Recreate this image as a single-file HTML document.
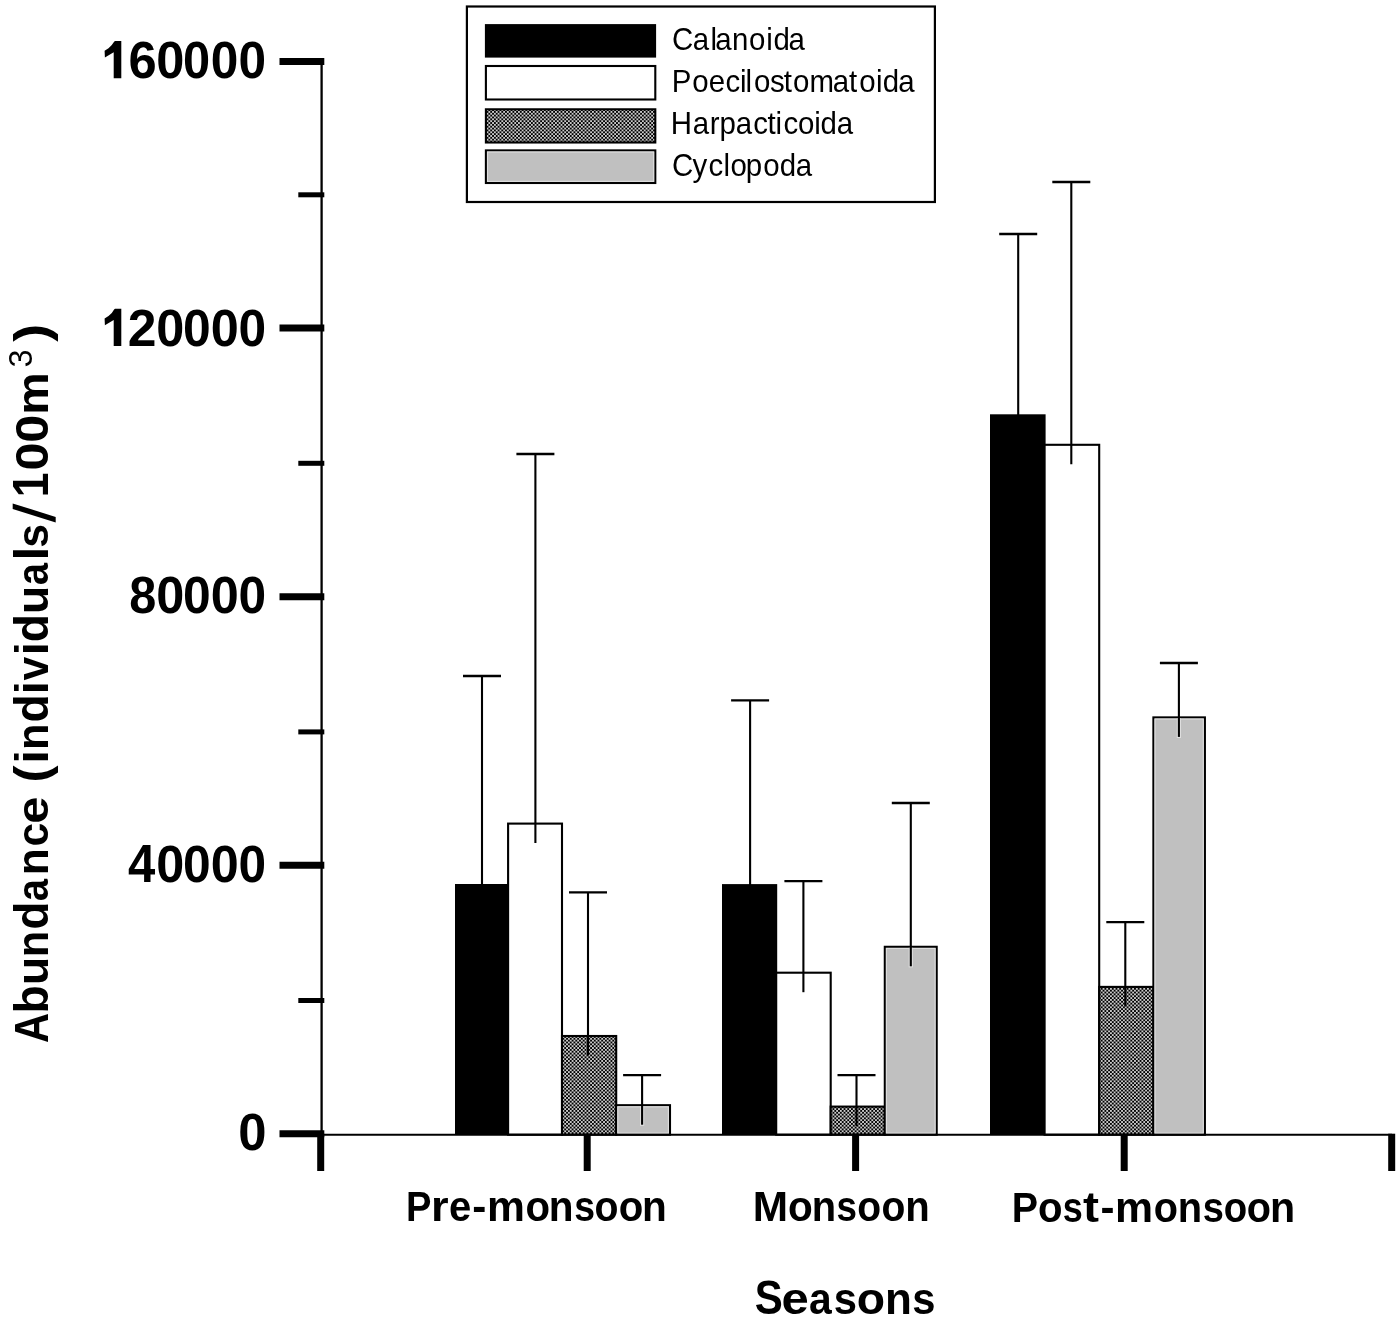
<!DOCTYPE html>
<html><head><meta charset="utf-8"><style>
html,body{margin:0;padding:0;background:#fff;}
svg{display:block;filter:grayscale(100%);}
text{font-family:"Liberation Sans",sans-serif;fill:#000;}
</style></head><body>
<svg width="1400" height="1326" viewBox="0 0 1400 1326">
<defs>
<pattern id="hatch" patternUnits="userSpaceOnUse" width="3.7" height="3.7">
<rect width="3.7" height="3.7" fill="#000"/>
<rect x="0.1" y="0.1" width="1.65" height="1.65" fill="#fff"/>
<rect x="1.95" y="1.95" width="1.65" height="1.65" fill="#fff"/>
</pattern>
</defs>
<rect width="1400" height="1326" fill="#fff"/>

<rect x="455" y="884" width="54.10000000000002" height="250.70000000000005" fill="#000"/>
<rect x="508.1" y="823.6" width="53.89999999999998" height="311.1" fill="#fff" stroke="#000" stroke-width="2.1"/>
<rect x="562" y="1036" width="54.200000000000045" height="98.70000000000005" fill="url(#hatch)" stroke="#000" stroke-width="2.1"/>
<rect x="616.2" y="1105.2" width="53.799999999999955" height="29.5" fill="#c0c0c0" stroke="#000" stroke-width="2.1"/>
<rect x="617.8000000000001" y="1106.8" width="50.59999999999995" height="26.3" fill="none" stroke="#dedede" stroke-width="1.1"/>
<rect x="722" y="884.1" width="55.200000000000045" height="250.60000000000002" fill="#000"/>
<rect x="776.2" y="972.7" width="54.5" height="162.0" fill="#fff" stroke="#000" stroke-width="2.1"/>
<rect x="830.7" y="1106.6" width="54.09999999999991" height="28.100000000000136" fill="url(#hatch)" stroke="#000" stroke-width="2.1"/>
<rect x="884.8" y="946.8" width="51.90000000000009" height="187.9000000000001" fill="#c0c0c0" stroke="#000" stroke-width="2.1"/>
<rect x="886.4" y="948.4" width="48.70000000000009" height="184.7000000000001" fill="none" stroke="#dedede" stroke-width="1.1"/>
<rect x="990" y="414.3" width="55.59999999999991" height="720.4000000000001" fill="#000"/>
<rect x="1044.6" y="444.8" width="54.600000000000136" height="689.9000000000001" fill="#fff" stroke="#000" stroke-width="2.1"/>
<rect x="1099.2" y="986.9" width="54.200000000000045" height="147.80000000000007" fill="url(#hatch)" stroke="#000" stroke-width="2.1"/>
<rect x="1153.4" y="717.4" width="51.5" height="417.30000000000007" fill="#c0c0c0" stroke="#000" stroke-width="2.1"/>
<rect x="1155.0" y="719.0" width="48.3" height="414.1000000000001" fill="none" stroke="#dedede" stroke-width="1.1"/>
<line x1="482" y1="676" x2="482" y2="903.5" stroke="#000" stroke-width="2.1"/>
<line x1="463" y1="676" x2="501" y2="676" stroke="#000" stroke-width="2.3"/>
<line x1="535.4" y1="454" x2="535.4" y2="843.1" stroke="#000" stroke-width="2.1"/>
<line x1="516.4" y1="454" x2="554.4" y2="454" stroke="#000" stroke-width="2.3"/>
<line x1="588" y1="892.4" x2="588" y2="1055.5" stroke="#000" stroke-width="2.1"/>
<line x1="569" y1="892.4" x2="607" y2="892.4" stroke="#000" stroke-width="2.3"/>
<line x1="642.1" y1="1106.2" x2="642.1" y2="1125.8" stroke="#dedede" stroke-width="4.2"/>
<line x1="642.1" y1="1075.2" x2="642.1" y2="1124.7" stroke="#000" stroke-width="2.1"/>
<line x1="623.1" y1="1075.2" x2="661.1" y2="1075.2" stroke="#000" stroke-width="2.3"/>
<line x1="750.1" y1="700.3" x2="750.1" y2="903.6" stroke="#000" stroke-width="2.1"/>
<line x1="731.1" y1="700.3" x2="769.1" y2="700.3" stroke="#000" stroke-width="2.3"/>
<line x1="803.4" y1="881.2" x2="803.4" y2="992.2" stroke="#000" stroke-width="2.1"/>
<line x1="784.4" y1="881.2" x2="822.4" y2="881.2" stroke="#000" stroke-width="2.3"/>
<line x1="856.5" y1="1075.1" x2="856.5" y2="1126.1" stroke="#000" stroke-width="2.1"/>
<line x1="837.5" y1="1075.1" x2="875.5" y2="1075.1" stroke="#000" stroke-width="2.3"/>
<line x1="910.8" y1="947.8" x2="910.8" y2="967.4" stroke="#dedede" stroke-width="4.2"/>
<line x1="910.8" y1="803" x2="910.8" y2="966.3" stroke="#000" stroke-width="2.1"/>
<line x1="891.8" y1="803" x2="929.8" y2="803" stroke="#000" stroke-width="2.3"/>
<line x1="1018.2" y1="234" x2="1018.2" y2="433.8" stroke="#000" stroke-width="2.1"/>
<line x1="999.2" y1="234" x2="1037.2" y2="234" stroke="#000" stroke-width="2.3"/>
<line x1="1071.3" y1="182" x2="1071.3" y2="464.3" stroke="#000" stroke-width="2.1"/>
<line x1="1052.3" y1="182" x2="1090.3" y2="182" stroke="#000" stroke-width="2.3"/>
<line x1="1125.3" y1="922.2" x2="1125.3" y2="1006.4" stroke="#000" stroke-width="2.1"/>
<line x1="1106.3" y1="922.2" x2="1144.3" y2="922.2" stroke="#000" stroke-width="2.3"/>
<line x1="1178.9" y1="718.4" x2="1178.9" y2="738.0" stroke="#dedede" stroke-width="4.2"/>
<line x1="1178.9" y1="663" x2="1178.9" y2="736.9" stroke="#000" stroke-width="2.1"/>
<line x1="1159.9" y1="663" x2="1197.9" y2="663" stroke="#000" stroke-width="2.3"/>
<line x1="321.6" y1="58" x2="321.6" y2="1134.7" stroke="#000" stroke-width="2.3"/>
<line x1="320" y1="1134.7" x2="1392" y2="1134.7" stroke="#000" stroke-width="2.1"/>
<line x1="279.5" y1="61.6" x2="324.3" y2="61.6" stroke="#000" stroke-width="7"/>
<line x1="279.5" y1="328.0" x2="324.3" y2="328.0" stroke="#000" stroke-width="7"/>
<line x1="279.5" y1="596.8" x2="324.3" y2="596.8" stroke="#000" stroke-width="7"/>
<line x1="279.5" y1="865.3" x2="324.3" y2="865.3" stroke="#000" stroke-width="7"/>
<line x1="279.5" y1="1133.75" x2="324.3" y2="1133.75" stroke="#000" stroke-width="7"/>
<line x1="298.3" y1="194.8" x2="324.3" y2="194.8" stroke="#000" stroke-width="5"/>
<line x1="298.3" y1="463.3" x2="324.3" y2="463.3" stroke="#000" stroke-width="5"/>
<line x1="298.3" y1="731.9" x2="324.3" y2="731.9" stroke="#000" stroke-width="5"/>
<line x1="298.3" y1="1000.5" x2="324.3" y2="1000.5" stroke="#000" stroke-width="5"/>
<line x1="320.7" y1="1133.7" x2="320.7" y2="1171" stroke="#000" stroke-width="7"/>
<line x1="587.2" y1="1133.7" x2="587.2" y2="1171" stroke="#000" stroke-width="7"/>
<line x1="855.6" y1="1133.7" x2="855.6" y2="1171" stroke="#000" stroke-width="7"/>
<line x1="1124.2" y1="1133.7" x2="1124.2" y2="1171" stroke="#000" stroke-width="7"/>
<line x1="1391.7" y1="1133.7" x2="1391.7" y2="1171" stroke="#000" stroke-width="7"/>
<polygon points="121.30,40.90 121.30,78.30 113.70,78.30 113.70,52.20 104.90,57.60 104.60,50.70 108.50,48.20 111.80,45.10 114.10,41.70 115.00,40.90" fill="#000"/>
<text transform="translate(128.57,78.30) scale(1.013,1.039)" font-weight="bold" font-size="50">6</text>
<text transform="translate(156.28,78.30) scale(1.012,1.039)" font-weight="bold" font-size="50">0</text>
<text transform="translate(182.95,78.30) scale(0.975,1.039)" font-weight="bold" font-size="50">0</text>
<text transform="translate(210.82,78.30) scale(0.992,1.039)" font-weight="bold" font-size="50">0</text>
<text transform="translate(238.42,78.30) scale(0.992,1.039)" font-weight="bold" font-size="50">0</text>
<polygon points="121.30,308.70 121.30,346.00 113.70,346.00 113.70,319.97 104.90,325.36 104.60,318.47 108.50,315.98 111.80,312.89 114.10,309.50 115.00,308.70" fill="#000"/>
<text transform="translate(127.63,346.00) scale(1.033,1.036)" font-weight="bold" font-size="50">2</text>
<text transform="translate(156.18,346.00) scale(1.008,1.036)" font-weight="bold" font-size="50">0</text>
<text transform="translate(183.01,346.00) scale(0.996,1.036)" font-weight="bold" font-size="50">0</text>
<text transform="translate(210.68,346.00) scale(1.008,1.036)" font-weight="bold" font-size="50">0</text>
<text transform="translate(238.52,346.00) scale(0.992,1.036)" font-weight="bold" font-size="50">0</text>
<text transform="translate(129.23,613.40) scale(0.972,1.036)" font-weight="bold" font-size="50">8</text>
<text transform="translate(156.18,613.40) scale(1.008,1.036)" font-weight="bold" font-size="50">0</text>
<text transform="translate(183.01,613.40) scale(0.996,1.036)" font-weight="bold" font-size="50">0</text>
<text transform="translate(210.68,613.40) scale(1.008,1.036)" font-weight="bold" font-size="50">0</text>
<text transform="translate(238.52,613.40) scale(0.992,1.036)" font-weight="bold" font-size="50">0</text>
<text transform="translate(128.12,881.50) scale(0.981,1.063)" font-weight="bold" font-size="50">4</text>
<text transform="translate(156.18,881.50) scale(1.008,1.033)" font-weight="bold" font-size="50">0</text>
<text transform="translate(183.01,881.50) scale(0.996,1.033)" font-weight="bold" font-size="50">0</text>
<text transform="translate(210.68,881.50) scale(1.008,1.033)" font-weight="bold" font-size="50">0</text>
<text transform="translate(238.52,881.50) scale(0.992,1.033)" font-weight="bold" font-size="50">0</text>
<text transform="translate(238.27,1150.10) scale(1.017,1.036)" font-weight="bold" font-size="50">0</text>
<text transform="translate(405.98,1221) scale(0.908,1)" font-weight="bold" font-size="42">P</text>
<text transform="translate(430.97,1221) scale(1.077,1)" font-weight="bold" font-size="42">r</text>
<text transform="translate(449.05,1221) scale(0.952,1)" font-weight="bold" font-size="42">e</text>
<text transform="translate(472.19,1221) scale(1.008,1)" font-weight="bold" font-size="42">-</text>
<text transform="translate(486.95,1221) scale(1.016,1)" font-weight="bold" font-size="42">m</text>
<text transform="translate(525.44,1221) scale(0.957,1)" font-weight="bold" font-size="42">o</text>
<text transform="translate(548.71,1221) scale(0.965,1)" font-weight="bold" font-size="42">n</text>
<text transform="translate(574.31,1221) scale(0.890,1)" font-weight="bold" font-size="42">s</text>
<text transform="translate(594.57,1221) scale(0.935,1)" font-weight="bold" font-size="42">o</text>
<text transform="translate(618.64,1221) scale(0.957,1)" font-weight="bold" font-size="42">o</text>
<text transform="translate(641.90,1221) scale(0.965,1)" font-weight="bold" font-size="42">n</text>
<text transform="translate(752.67,1221) scale(1.010,1)" font-weight="bold" font-size="42">M</text>
<text transform="translate(787.93,1221) scale(0.965,1)" font-weight="bold" font-size="42">o</text>
<text transform="translate(811.75,1221) scale(0.950,1)" font-weight="bold" font-size="42">n</text>
<text transform="translate(836.62,1221) scale(0.876,1)" font-weight="bold" font-size="42">s</text>
<text transform="translate(857.17,1221) scale(0.930,1)" font-weight="bold" font-size="42">o</text>
<text transform="translate(881.57,1221) scale(0.930,1)" font-weight="bold" font-size="42">o</text>
<text transform="translate(905.13,1221) scale(0.955,1)" font-weight="bold" font-size="42">n</text>
<text transform="translate(1011.69,1222) scale(0.938,1)" font-weight="bold" font-size="42">P</text>
<text transform="translate(1038.04,1222) scale(0.957,1)" font-weight="bold" font-size="42">o</text>
<text transform="translate(1062.64,1222) scale(0.857,1)" font-weight="bold" font-size="42">s</text>
<text transform="translate(1083.00,1222) scale(1.143,1)" font-weight="bold" font-size="42">t</text>
<text transform="translate(1100.50,1222) scale(1.000,1)" font-weight="bold" font-size="42">-</text>
<text transform="translate(1115.04,1222) scale(1.019,1)" font-weight="bold" font-size="42">m</text>
<text transform="translate(1153.86,1222) scale(0.943,1)" font-weight="bold" font-size="42">o</text>
<text transform="translate(1177.75,1222) scale(0.950,1)" font-weight="bold" font-size="42">n</text>
<text transform="translate(1202.70,1222) scale(0.905,1)" font-weight="bold" font-size="42">s</text>
<text transform="translate(1223.79,1222) scale(0.913,1)" font-weight="bold" font-size="42">o</text>
<text transform="translate(1246.86,1222) scale(0.943,1)" font-weight="bold" font-size="42">o</text>
<text transform="translate(1269.96,1222) scale(0.980,1)" font-weight="bold" font-size="42">n</text>
<text transform="translate(754.82,1314) scale(0.876,1)" font-weight="bold" font-size="48">S</text>
<text transform="translate(781.56,1314) scale(1.022,0.93)" font-weight="bold" font-size="48">e</text>
<text transform="translate(809.00,1314) scale(0.850,0.93)" font-weight="bold" font-size="48">a</text>
<text transform="translate(833.76,1314) scale(0.870,0.93)" font-weight="bold" font-size="48">s</text>
<text transform="translate(856.77,1314) scale(0.965,0.93)" font-weight="bold" font-size="48">o</text>
<text transform="translate(885.05,1314) scale(0.917,0.93)" font-weight="bold" font-size="48">n</text>
<text transform="translate(912.36,1314) scale(0.870,0.93)" font-weight="bold" font-size="48">s</text>
<text transform="translate(48.4,1042.97) rotate(-90) scale(0.869,1.015)" font-weight="bold" font-size="48">A</text>
<text transform="translate(48.4,1013.49) rotate(-90) scale(0.964,1.011)" font-weight="bold" font-size="48">b</text>
<text transform="translate(48.4,985.32) rotate(-90) scale(0.974,0.935)" font-weight="bold" font-size="48">u</text>
<text transform="translate(48.4,957.31) rotate(-90) scale(0.904,0.935)" font-weight="bold" font-size="48">n</text>
<text transform="translate(48.4,929.41) rotate(-90) scale(0.954,1.011)" font-weight="bold" font-size="48">d</text>
<text transform="translate(48.4,901.13) rotate(-90) scale(0.835,0.935)" font-weight="bold" font-size="48">a</text>
<text transform="translate(48.4,875.25) rotate(-90) scale(0.917,0.935)" font-weight="bold" font-size="48">n</text>
<text transform="translate(48.4,846.47) rotate(-90) scale(0.887,0.935)" font-weight="bold" font-size="48">c</text>
<text transform="translate(48.4,823.64) rotate(-90) scale(1.022,0.935)" font-weight="bold" font-size="48">e</text>
<text transform="translate(48.4,782.54) rotate(-90) scale(1.071,1.020)" font-weight="bold" font-size="48">(</text>
<text transform="translate(48.4,763.63) rotate(-90) scale(1.043,0.957)" font-weight="bold" font-size="48">i</text>
<text transform="translate(48.4,750.11) rotate(-90) scale(0.904,0.935)" font-weight="bold" font-size="48">n</text>
<text transform="translate(48.4,722.62) rotate(-90) scale(0.963,1.011)" font-weight="bold" font-size="48">d</text>
<text transform="translate(48.4,694.21) rotate(-90) scale(0.971,0.957)" font-weight="bold" font-size="48">i</text>
<text transform="translate(48.4,680.60) rotate(-90) scale(0.889,0.935)" font-weight="bold" font-size="48">v</text>
<text transform="translate(48.4,655.16) rotate(-90) scale(0.986,0.957)" font-weight="bold" font-size="48">i</text>
<text transform="translate(48.4,642.32) rotate(-90) scale(0.958,1.011)" font-weight="bold" font-size="48">d</text>
<text transform="translate(48.4,613.88) rotate(-90) scale(0.961,0.935)" font-weight="bold" font-size="48">u</text>
<text transform="translate(48.4,585.33) rotate(-90) scale(0.831,0.935)" font-weight="bold" font-size="48">a</text>
<text transform="translate(48.4,560.43) rotate(-90) scale(1.043,1.009)" font-weight="bold" font-size="48">l</text>
<text transform="translate(48.4,547.77) rotate(-90) scale(0.887,0.938)" font-weight="bold" font-size="48">s</text>
<polygon points="12.7,503.4 12.7,508.9 55.7,522.4 55.7,516.9" fill="#000"/>
<text transform="translate(48.4,497.18) rotate(-90) scale(0.926,1.027)" font-weight="bold" font-size="48">1</text>
<text transform="translate(48.4,470.50) rotate(-90) scale(1.048,0.979)" font-weight="bold" font-size="48">0</text>
<text transform="translate(48.4,442.80) rotate(-90) scale(1.052,0.979)" font-weight="bold" font-size="48">0</text>
<text transform="translate(48.4,414.68) rotate(-90) scale(0.995,0.935)" font-weight="bold" font-size="48">m</text>
<text transform="translate(32.2,367.41) rotate(-90) scale(1.012,1.036)" font-weight="normal" font-size="32">3</text>
<text transform="translate(48.4,341.70) rotate(-90) scale(1.121,1.011)" font-weight="bold" font-size="48">)</text>
<rect x="466.9" y="6.5" width="468" height="195.5" fill="#fff" stroke="#000" stroke-width="2.2"/>
<rect x="484.9" y="24.1" width="171.2" height="33.5" fill="#000"/>
<rect x="485.9" y="66" width="169.4" height="33.5" fill="#fff" stroke="#000" stroke-width="2.1"/>
<rect x="485.9" y="109.3" width="169.4" height="33.2" fill="url(#hatch)" stroke="#000" stroke-width="2.1"/>
<rect x="485.9" y="150.4" width="169.4" height="32.599999999999994" fill="#c0c0c0" stroke="#000" stroke-width="2.1"/>
<rect x="487.5" y="152.0" width="166.20000000000002" height="29.399999999999995" fill="none" stroke="#dedede" stroke-width="1.1"/>
<text transform="translate(672.00,50.1) scale(0.95,1)" font-size="31">C</text>
<text transform="translate(692.70,50.1) scale(0.95,1)" font-size="31">a</text>
<text transform="translate(710.47,50.1) scale(0.95,1)" font-size="31">l</text>
<text transform="translate(715.15,50.1) scale(0.95,1)" font-size="31">a</text>
<text transform="translate(732.02,50.1) scale(0.95,1)" font-size="31">n</text>
<text transform="translate(748.88,50.1) scale(0.95,1)" font-size="31">o</text>
<text transform="translate(766.22,50.1) scale(0.95,1)" font-size="31">i</text>
<text transform="translate(773.45,50.1) scale(0.95,1)" font-size="31">d</text>
<text transform="translate(788.55,50.1) scale(0.95,1)" font-size="31">a</text>
<text transform="translate(671.73,92.4) scale(0.95,1)" font-size="31">P</text>
<text transform="translate(692.22,92.4) scale(0.95,1)" font-size="31">o</text>
<text transform="translate(708.67,92.4) scale(0.95,1)" font-size="31">e</text>
<text transform="translate(725.40,92.4) scale(0.95,1)" font-size="31">c</text>
<text transform="translate(739.88,92.4) scale(0.95,1)" font-size="31">i</text>
<text transform="translate(745.47,92.4) scale(0.95,1)" font-size="31">l</text>
<text transform="translate(753.92,92.4) scale(0.95,1)" font-size="31">o</text>
<text transform="translate(769.95,92.4) scale(0.95,1)" font-size="31">s</text>
<text transform="translate(783.83,92.4) scale(0.95,1)" font-size="31">t</text>
<text transform="translate(793.02,92.4) scale(0.95,1)" font-size="31">o</text>
<text transform="translate(809.50,92.4) scale(0.95,1)" font-size="31">m</text>
<text transform="translate(832.80,92.4) scale(0.95,1)" font-size="31">a</text>
<text transform="translate(849.12,92.4) scale(0.95,1)" font-size="31">t</text>
<text transform="translate(859.27,92.4) scale(0.95,1)" font-size="31">o</text>
<text transform="translate(876.12,92.4) scale(0.95,1)" font-size="31">i</text>
<text transform="translate(882.70,92.4) scale(0.95,1)" font-size="31">d</text>
<text transform="translate(898.15,92.4) scale(0.95,1)" font-size="31">a</text>
<text transform="translate(670.75,133.6) scale(0.95,1)" font-size="31">H</text>
<text transform="translate(692.85,133.6) scale(0.95,1)" font-size="31">a</text>
<text transform="translate(709.80,133.6) scale(0.95,1)" font-size="31">r</text>
<text transform="translate(719.45,133.6) scale(0.95,1)" font-size="31">p</text>
<text transform="translate(735.85,133.6) scale(0.95,1)" font-size="31">a</text>
<text transform="translate(753.20,133.6) scale(0.95,1)" font-size="31">c</text>
<text transform="translate(767.52,133.6) scale(0.95,1)" font-size="31">t</text>
<text transform="translate(775.38,133.6) scale(0.95,1)" font-size="31">i</text>
<text transform="translate(783.45,133.6) scale(0.95,1)" font-size="31">c</text>
<text transform="translate(798.12,133.6) scale(0.95,1)" font-size="31">o</text>
<text transform="translate(814.22,133.6) scale(0.95,1)" font-size="31">i</text>
<text transform="translate(820.55,133.6) scale(0.95,1)" font-size="31">d</text>
<text transform="translate(836.70,133.6) scale(0.95,1)" font-size="31">a</text>
<text transform="translate(672.00,175.6) scale(0.95,1)" font-size="31">C</text>
<text transform="translate(692.48,175.6) scale(0.95,1)" font-size="31">y</text>
<text transform="translate(708.60,175.6) scale(0.95,1)" font-size="31">c</text>
<text transform="translate(723.62,175.6) scale(0.95,1)" font-size="31">l</text>
<text transform="translate(730.62,175.6) scale(0.95,1)" font-size="31">o</text>
<text transform="translate(745.70,175.6) scale(0.95,1)" font-size="31">p</text>
<text transform="translate(763.32,175.6) scale(0.95,1)" font-size="31">o</text>
<text transform="translate(779.85,175.6) scale(0.95,1)" font-size="31">d</text>
<text transform="translate(795.75,175.6) scale(0.95,1)" font-size="31">a</text>
</svg></body></html>
